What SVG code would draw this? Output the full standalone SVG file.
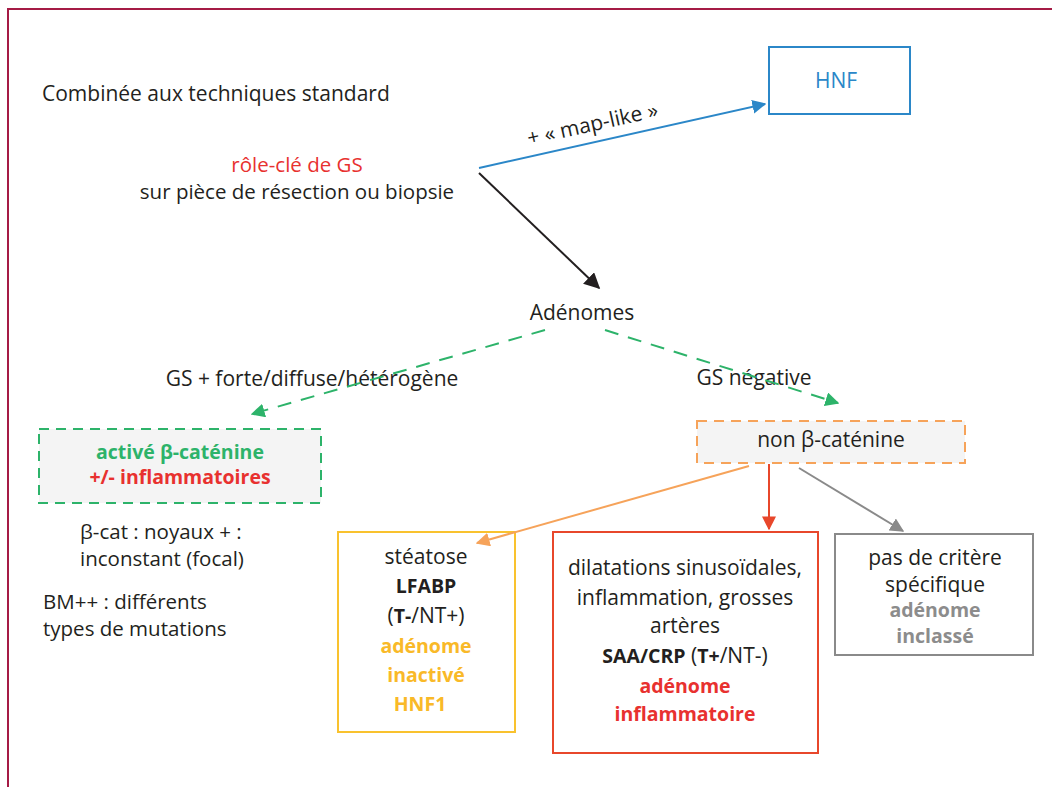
<svg xmlns="http://www.w3.org/2000/svg" width="1052" height="787" viewBox="0 0 1052 787">
<style>
text{font-family:"Open Sans","Liberation Sans",sans-serif;font-size:21px;fill:#231f20}
.c{text-anchor:middle}
.s{font-size:20.5px}
.b{font-weight:bold;font-size:19.5px}
.red{fill:#e8312f}
.grn{fill:#2db36a}
.yel{fill:#f9b928}
.gry{fill:#8c8c8c}
.blu{fill:#2b87c8}
.box{fill:#fff;stroke-width:2}
</style>
<defs>
<marker id="mBlue" viewBox="0 0 10 10" refX="9" refY="5" markerWidth="14" markerHeight="14" markerUnits="userSpaceOnUse" orient="auto"><path d="M0,0L10,5L0,10z" fill="#2b87c8"/></marker>
<marker id="mBlack" viewBox="0 0 10 10" refX="9" refY="5" markerWidth="16" markerHeight="16" markerUnits="userSpaceOnUse" orient="auto"><path d="M0,0L10,5L0,10z" fill="#231f20"/></marker>
<marker id="mGreen" viewBox="0 0 10 10" refX="9" refY="5" markerWidth="14" markerHeight="14" markerUnits="userSpaceOnUse" orient="auto"><path d="M0,0L10,5L0,10z" fill="#2db36a"/></marker>
<marker id="mOrange" viewBox="0 0 10 10" refX="9" refY="5" markerWidth="14" markerHeight="14" markerUnits="userSpaceOnUse" orient="auto"><path d="M0,0L10,5L0,10z" fill="#f6a35a"/></marker>
<marker id="mRed" viewBox="0 0 10 10" refX="9" refY="5" markerWidth="14" markerHeight="14" markerUnits="userSpaceOnUse" orient="auto"><path d="M0,0L10,5L0,10z" fill="#e8472b"/></marker>
<marker id="mGray" viewBox="0 0 10 10" refX="9" refY="5" markerWidth="14" markerHeight="14" markerUnits="userSpaceOnUse" orient="auto"><path d="M0,0L10,5L0,10z" fill="#8a8a8a"/></marker>
</defs>
<rect width="1052" height="787" fill="#fff"/>
<path d="M8,787V9H1052" fill="none" stroke="#a51b45" stroke-width="2"/>

<g id="intro">
<text x="42" y="101">Combinée aux techniques standard</text>
</g>
<g id="gs">
<text class="c s red" x="297" y="172">rôle-clé de GS</text>
<text class="c s" x="297" y="199">sur pièce de résection ou biopsie</text>
</g>
<g id="hnf">
<rect class="box" x="769" y="47" width="141" height="67" stroke="#2b87c8"/>
<text class="c blu" x="836" y="88">HNF</text>
</g>
<g id="adenomes">
<text class="c" x="582" y="320">Adénomes</text>
</g>
<g id="label-left">
<text class="c" x="312" y="386">GS + forte/diffuse/hétérogène</text>
</g>
<g id="label-right">
<text class="c" x="754" y="385">GS négative</text>
</g>
<g id="beta">
<rect x="39" y="429" width="282" height="74" fill="#f4f4f4" stroke="#2db36a" stroke-width="2" stroke-dasharray="10,7"/>
<text class="c b grn" x="180" y="459">activé β-caténine</text>
<text class="c b red" x="180" y="484">+/- inflammatoires</text>
</g>
<g id="notes">
<text class="s" x="80" y="539">β-cat : noyaux + :</text>
<text class="s" x="80" y="566">inconstant (focal)</text>
<text class="s" x="43" y="609">BM++ : différents</text>
<text class="s" x="43" y="636">types de mutations</text>
</g>
<g id="nonbeta">
<rect x="697" y="421" width="268" height="42" fill="#f4f4f4" stroke="#f6a35a" stroke-width="2" stroke-dasharray="10,7"/>
<text class="c" x="831" y="447">non β-caténine</text>
</g>
<g id="steatose">
<rect class="box" x="338" y="532" width="177" height="200" stroke="#f9c22e"/>
<text class="c" x="426" y="564">stéatose</text>
<text class="c b" x="426" y="593">LFABP</text>
<text class="c" x="426" y="623">(<tspan class="b">T-</tspan>/NT+)</text>
<text class="c b yel" x="426" y="653">adénome</text>
<text class="c b yel" x="426" y="682">inactivé</text>
<text class="c b yel" x="420" y="711">HNF1</text>
</g>
<g id="inflam">
<rect class="box" x="553" y="532" width="265" height="221" stroke="#e8472b"/>
<text class="c" x="685" y="575">dilatations sinusoïdales,</text>
<text class="c" x="685" y="605">inflammation, grosses</text>
<text class="c" x="685" y="633">artères</text>
<text class="c" x="685" y="663"><tspan class="b">SAA/CRP</tspan> (<tspan class="b">T+</tspan>/NT-)</text>
<text class="c b red" x="685" y="693">adénome</text>
<text class="c b red" x="685" y="721">inflammatoire</text>
</g>
<g id="inclasse">
<rect class="box" x="835" y="534" width="198" height="121" stroke="#8a8a8a"/>
<text class="c" x="935" y="565">pas de critère</text>
<text class="c" x="935" y="592">spécifique</text>
<text class="c b gry" x="935" y="617">adénome</text>
<text class="c b gry" x="935" y="643">inclassé</text>
</g>

<g id="connectors" fill="none">
<path d="M479,168L765,104" stroke="#2b87c8" stroke-width="2" marker-end="url(#mBlue)"/>
<path d="M479,173L599,288" stroke="#231f20" stroke-width="2" marker-end="url(#mBlack)"/>
<path d="M545,330L252,414" stroke="#2db36a" stroke-width="2" stroke-dasharray="14,10" marker-end="url(#mGreen)"/>
<path d="M605,330L838,403" stroke="#2db36a" stroke-width="2" stroke-dasharray="14,10" marker-end="url(#mGreen)"/>
<path d="M749,466L477,543" stroke="#f6a35a" stroke-width="2" marker-end="url(#mOrange)"/>
<path d="M769,464V529" stroke="#e8472b" stroke-width="2" marker-end="url(#mRed)"/>
<path d="M799,468L903,531" stroke="#8a8a8a" stroke-width="2" marker-end="url(#mGray)"/>
<text class="c" transform="translate(594,131) rotate(-12.5)">+ « map-like »</text>
</g>
</svg>
